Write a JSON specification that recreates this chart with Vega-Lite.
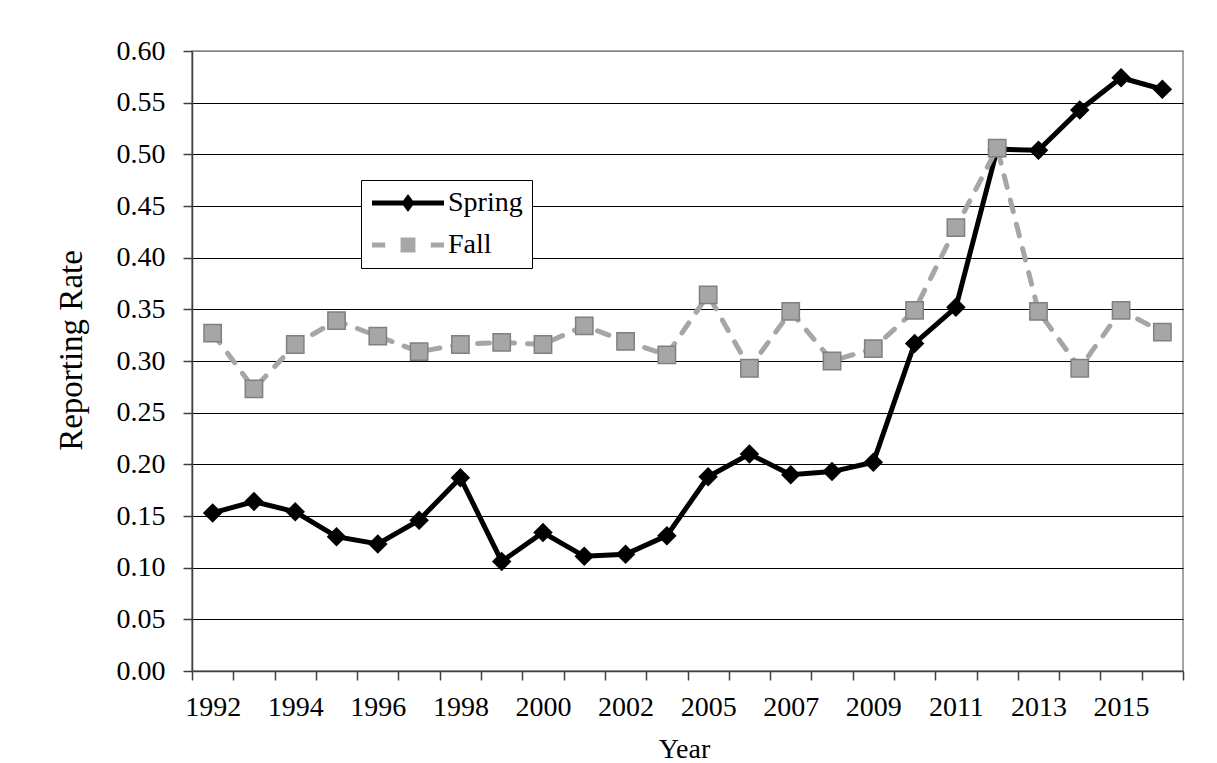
{
  "$schema": "https://vega.github.io/schema/vega-lite/v6.json",
  "autosize": "none",
  "width": 991,
  "height": 620,
  "padding": {"left": 192, "top": 51, "right": 34, "bottom": 92},
  "background": "white",
  "config": {
    "font": "Liberation Serif",
    "view": {"stroke": "#868686", "strokeWidth": 1.5}
  },
  "data": {
    "values": [
      {"Year": 1992, "Series": "Spring", "Rate": 0.153}, {"Year": 1993, "Series": "Spring", "Rate": 0.164},
      {"Year": 1994, "Series": "Spring", "Rate": 0.154}, {"Year": 1995, "Series": "Spring", "Rate": 0.130},
      {"Year": 1996, "Series": "Spring", "Rate": 0.123}, {"Year": 1997, "Series": "Spring", "Rate": 0.146},
      {"Year": 1998, "Series": "Spring", "Rate": 0.187}, {"Year": 1999, "Series": "Spring", "Rate": 0.106},
      {"Year": 2000, "Series": "Spring", "Rate": 0.134}, {"Year": 2001, "Series": "Spring", "Rate": 0.111},
      {"Year": 2002, "Series": "Spring", "Rate": 0.113}, {"Year": 2003, "Series": "Spring", "Rate": 0.131},
      {"Year": 2005, "Series": "Spring", "Rate": 0.188}, {"Year": 2006, "Series": "Spring", "Rate": 0.210},
      {"Year": 2007, "Series": "Spring", "Rate": 0.190}, {"Year": 2008, "Series": "Spring", "Rate": 0.193},
      {"Year": 2009, "Series": "Spring", "Rate": 0.202}, {"Year": 2010, "Series": "Spring", "Rate": 0.317},
      {"Year": 2011, "Series": "Spring", "Rate": 0.352}, {"Year": 2012, "Series": "Spring", "Rate": 0.505},
      {"Year": 2013, "Series": "Spring", "Rate": 0.504}, {"Year": 2014, "Series": "Spring", "Rate": 0.543},
      {"Year": 2015, "Series": "Spring", "Rate": 0.574}, {"Year": 2016, "Series": "Spring", "Rate": 0.563},
      {"Year": 1992, "Series": "Fall", "Rate": 0.327}, {"Year": 1993, "Series": "Fall", "Rate": 0.273},
      {"Year": 1994, "Series": "Fall", "Rate": 0.316}, {"Year": 1995, "Series": "Fall", "Rate": 0.339},
      {"Year": 1996, "Series": "Fall", "Rate": 0.324}, {"Year": 1997, "Series": "Fall", "Rate": 0.309},
      {"Year": 1998, "Series": "Fall", "Rate": 0.316}, {"Year": 1999, "Series": "Fall", "Rate": 0.318},
      {"Year": 2000, "Series": "Fall", "Rate": 0.316}, {"Year": 2001, "Series": "Fall", "Rate": 0.334},
      {"Year": 2002, "Series": "Fall", "Rate": 0.319}, {"Year": 2003, "Series": "Fall", "Rate": 0.306},
      {"Year": 2005, "Series": "Fall", "Rate": 0.364}, {"Year": 2006, "Series": "Fall", "Rate": 0.293},
      {"Year": 2007, "Series": "Fall", "Rate": 0.348}, {"Year": 2008, "Series": "Fall", "Rate": 0.300},
      {"Year": 2009, "Series": "Fall", "Rate": 0.312}, {"Year": 2010, "Series": "Fall", "Rate": 0.349},
      {"Year": 2011, "Series": "Fall", "Rate": 0.429}, {"Year": 2012, "Series": "Fall", "Rate": 0.506},
      {"Year": 2013, "Series": "Fall", "Rate": 0.348}, {"Year": 2014, "Series": "Fall", "Rate": 0.293},
      {"Year": 2015, "Series": "Fall", "Rate": 0.349}, {"Year": 2016, "Series": "Fall", "Rate": 0.328}
    ]
  },
  "encoding": {
    "x": {
      "field": "Year", "type": "ordinal",
      "scale": {"type": "band", "paddingInner": 0, "paddingOuter": 0},
      "axis": {
        "title": "Year",
        "titleFont": "Liberation Serif", "titleFontSize": 28, "titleFontWeight": "normal", "titleColor": "black",
        "titleBaseline": "alphabetic", "titleY": 86, "titleX": 492,
        "labelFont": "Liberation Serif", "labelFontSize": 28, "labelColor": "black", "labelAngle": 0,
        "labelBaseline": "alphabetic", "labelPadding": 35,
        "labelExpr": "indexof([1992,1994,1996,1998,2000,2002,2005,2007,2009,2011,2013,2015], datum.value) >= 0 ? datum.label : ''",
        "labelOverlap": false,
        "tickBand": "extent", "tickSize": 9, "tickColor": "#404040", "tickWidth": 1.5,
        "domainColor": "#404040", "domainWidth": 1.5, "grid": false
      }
    },
    "y": {
      "field": "Rate", "type": "quantitative",
      "scale": {"domain": [0, 0.6], "nice": false, "zero": true},
      "axis": {
        "title": "Reporting Rate",
        "titleFont": "Liberation Serif", "titleFontSize": 33, "titleFontWeight": "normal", "titleColor": "black",
        "titleAngle": -90, "titleBaseline": "alphabetic", "titleAlign": "center", "titleX": -111, "titleY": 299,
        "values": [0, 0.05, 0.1, 0.15, 0.2, 0.25, 0.3, 0.35, 0.4, 0.45, 0.5, 0.55, 0.6],
        "format": ".2f",
        "labelFont": "Liberation Serif", "labelFontSize": 28, "labelColor": "black", "labelPadding": 18,
        "tickSize": 9, "tickColor": "#404040", "tickWidth": 1.5,
        "domainColor": "#404040", "domainWidth": 1.5,
        "grid": true,
        "gridColor": {"condition": {"test": "datum.value >= 0.6", "value": "#868686"}, "value": "black"},
        "gridWidth": 1
      }
    }
  },
  "layer": [
    {
      "transform": [{"filter": "datum.Series === 'Spring'"}],
      "mark": {"type": "line", "stroke": "black", "strokeWidth": 5}
    },
    {
      "transform": [{"filter": "datum.Series === 'Spring'"}],
      "mark": {"type": "point", "filled": true, "shape": "diamond", "size": 380, "opacity": 1, "fill": "black", "strokeWidth": 0}
    },
    {
      "transform": [{"filter": "datum.Series === 'Fall'"}],
      "mark": {"type": "line", "stroke": "#a6a6a6", "strokeWidth": 5, "strokeDash": [12, 13], "strokeCap": "round"}
    },
    {
      "transform": [{"filter": "datum.Series === 'Fall'"}],
      "mark": {"type": "point", "filled": true, "shape": "square", "size": 300, "opacity": 1, "fill": "#a6a6a6", "stroke": "#808080", "strokeWidth": 1.5}
    },
    {
      "transform": [{"filter": "false"}],
      "mark": {"type": "point", "filled": true},
      "encoding": {
        "fill": {"field": "Series", "type": "nominal", "scale": {"domain": ["Spring", "Fall"], "range": ["black", "#a6a6a6"]},
          "legend": {
            "orient": "none", "legendX": 169, "legendY": 129, "title": null,
            "fillColor": "white", "strokeColor": "black", "padding": 9, "cornerRadius": 0,
            "labelFont": "Liberation Serif", "labelFontSize": 28, "labelColor": "black", "labelOffset": 50,
            "rowPadding": 14, "symbolSize": 576, "symbolOpacity": 1, "symbolStrokeColor": "#808080", "symbolStrokeWidth": 1
          }
        },
        "shape": {"field": "Series", "type": "nominal",
          "scale": {"domain": ["Spring", "Fall"], "range": ["M-1,-0.2H5V0.2H-1Z M2,-0.75L2.55,0L2,0.75L1.45,0Z", "M-1,-0.2H0.1V0.2H-1Z M3.9,-0.2H5V0.2H3.9Z M1.38,-0.62H2.62V0.62H1.38Z"]},
          "legend": {
            "orient": "none", "legendX": 169, "legendY": 129, "title": null,
            "fillColor": "white", "strokeColor": "black", "padding": 9, "cornerRadius": 0,
            "labelFont": "Liberation Serif", "labelFontSize": 28, "labelColor": "black", "labelOffset": 50,
            "rowPadding": 14, "symbolSize": 576, "symbolOpacity": 1, "symbolStrokeColor": "#808080", "symbolStrokeWidth": 1
          }
        }
      }
    }
  ]
}
